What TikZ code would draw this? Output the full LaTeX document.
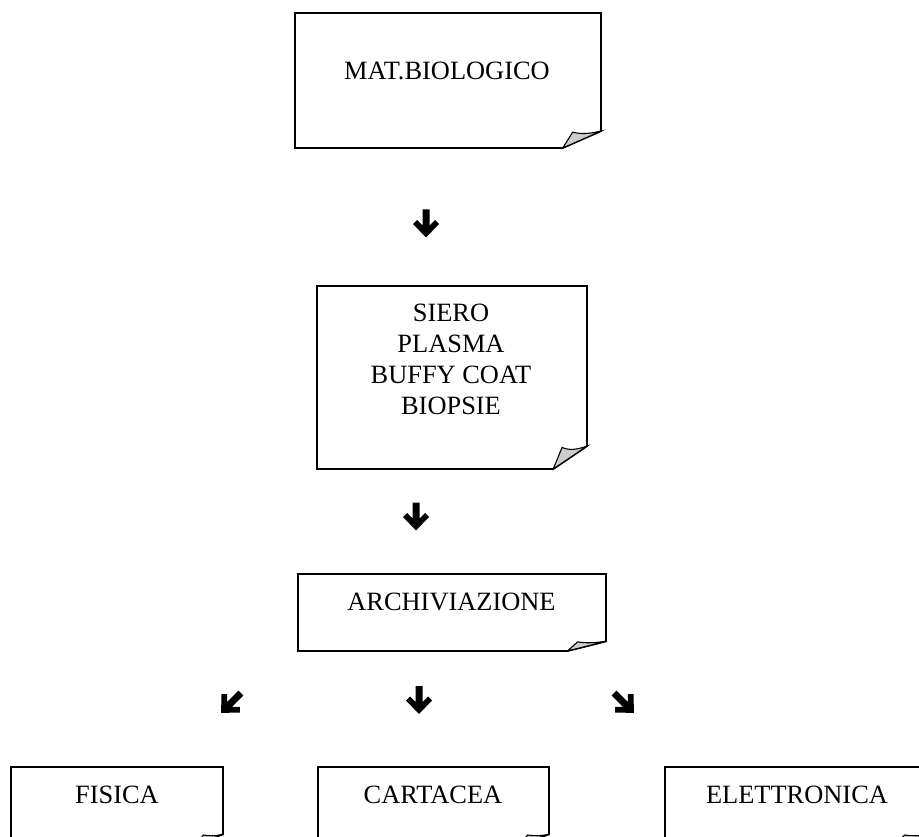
\documentclass[tikz,border=0pt]{standalone}
\usepackage{fontspec}
\setmainfont{Liberation Serif}
\newcommand{\foldbox}[5]{%
	\draw[line width=1.8] (#2,#3) -- (#4,#3) -- (#4,{#5-0.125*(#5-#3)}) -- ({#4-0.125*(#4-#2)},#5) -- (#2,#5) -- cycle;
	\filldraw[fill=black!20,line width=1.1] ({#4-0.125*(#4-#2)},#5) -- ({#4-0.74*0.125*(#4-#2)},{#5-0.94*0.125*(#5-#3)}) .. controls ({#4-0.5*0.125*(#4-#2)},{#5-0.8*0.125*(#5-#3)}) and ({#4-0.3*0.125*(#4-#2)},{#5-0.85*0.125*(#5-#3)}) .. (#4,{#5-0.125*(#5-#3)}) -- cycle;
	\coordinate (#1) at ({0.5*(#2+#4)},#3);}
\tikzset{
	fatarrow/.pic={\fill (-3.5,-14) -- (3.5,-14) -- (3.5,2) -- (9,-3.5) -- (13,0.5) -- (0,14) -- (-13,0.5) -- (-9,-3.5) -- (-3.5,2) -- cycle;},
	label/.style={font=\fontsize{26.4}{31}\selectfont,inner sep=0pt,anchor=base,align=center}
}
\begin{document}
\begin{tikzpicture}[x=1pt,y=-1pt]
		\useasboundingbox (0,0) rectangle (919,837);
		\clip (0,0) rectangle (919,837);
		\foldbox{mat}{295}{13}{601}{148}
		\foldbox{sier}{317}{286}{587}{469}
		\foldbox{arch}{298}{574}{606}{651}
		\foldbox{fis}{11}{767}{223}{844}
		\foldbox{cart}{318}{767}{549}{844}
		\foldbox{elet}{665}{767}{929}{844}
		\node[label] (tmat) at (447,80) {MAT.BIOLOGICO};
		\node[label] (tsier) at (451,414) {SIERO\\PLASMA\\BUFFY COAT\\BIOPSIE};
		\node[label] (tarch) at (451.5,610) {ARCHIVIAZIONE};
		\node[label] (tfis) at (117,803) {FISICA};
		\node[label] (tcart) at (433,803) {CARTACEA};
		\node[label] (telet) at (797,803) {ELETTRONICA};
		\pic at (426,223.5) {fatarrow};
		\pic at (416,516.5) {fatarrow};
		\pic at (419,700) {fatarrow};
		\pic[rotate=-45] at (231,703) {fatarrow};
		\pic[rotate=45] at (624,703) {fatarrow};
	\end{tikzpicture}
\end{document}
